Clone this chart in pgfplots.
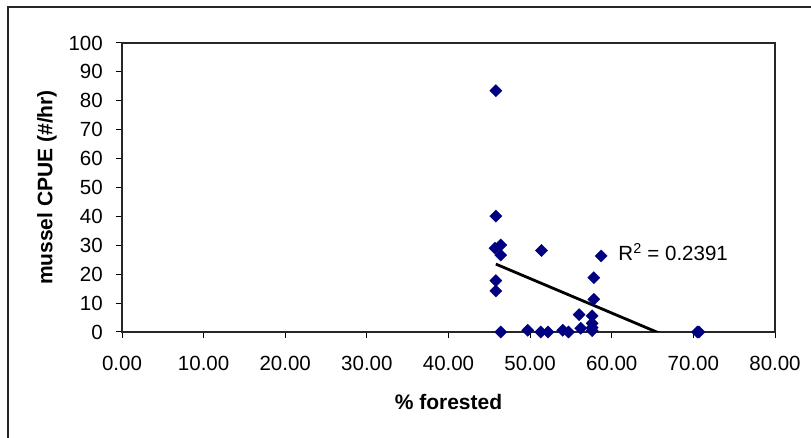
\documentclass[border=0pt]{standalone}
\usepackage{fontspec}
\setmainfont{Liberation Sans}
\usepackage{pgfplots}
\pgfplotsset{compat=1.18}
\definecolor{navy}{RGB}{0,0,128}
\begin{document}
\begin{tikzpicture}
\useasboundingbox (0,0) rectangle (811bp,438bp);
\draw[line width=1.3bp, black!85] (8bp,-2bp) -- (8bp,431bp) -- (813bp,431bp);
\begin{axis}[
  at={(122bp,106bp)}, anchor=south west,
  scale only axis, width=653bp, height=289bp,
  xmin=0, xmax=80, ymin=0, ymax=100,
  xtick={0,10,...,80}, ytick={0,10,...,100},
  xticklabels={0.00,10.00,20.00,30.00,40.00,50.00,60.00,70.00,80.00},
  yticklabels={0,10,20,30,40,50,60,70,80,90,100},
  xtick pos=bottom, ytick pos=left,
  tick align=outside, major tick length=6bp,
  tick style={black, line width=1bp},
  axis line style={black!85, line width=1.3bp},
  ticklabel style={font=\fontsize{20.5bp}{24bp}\selectfont, inner sep=0pt},
  xticklabel style={anchor=north, yshift=-18bp},
  yticklabel style={anchor=east, xshift=-13bp},
  xlabel={\% forested},
  ylabel={mussel CPUE (\#/hr)},
  label style={font=\fontsize{21bp}{24bp}\selectfont\bfseries},
  xlabel style={at={(axis description cs:0.5,-0.242)}, anchor=center},
  ylabel style={at={(axis description cs:-0.115,0.5)}, anchor=center},
  clip=true,
]
\addplot[black, line width=2.8bp, no marks] coordinates {(45.8,23.5) (70.7,-6.2)};
\addplot[only marks, mark=square*, mark size=4.3bp,
  mark options={rotate=45, fill=navy, draw=navy}] coordinates {
  (45.8,83.5) (45.8,40.1) (45.7,29.0) (46.4,30.1) (46.4,26.6)
  (45.8,17.8) (45.8,14.2) (46.4,0.0) (51.4,28.2) (58.7,26.3)
  (57.8,18.8) (57.8,11.3) (56.0,6.0) (57.6,5.6) (57.6,3.0)
  (57.6,1.5) (57.6,0.5) (56.2,1.3) (49.7,0.6) (51.3,0.0)
  (52.2,0.0) (54.0,0.6) (54.7,0.0) (70.7,0.0) (70.5,0.0)
};
\node[anchor=base west, inner sep=0pt, font=\fontsize{20.5bp}{24bp}\selectfont]
  at (axis cs:60.8,24.6) {R\textsuperscript{2} = 0.2391};
\end{axis}
\end{tikzpicture}
\end{document}
